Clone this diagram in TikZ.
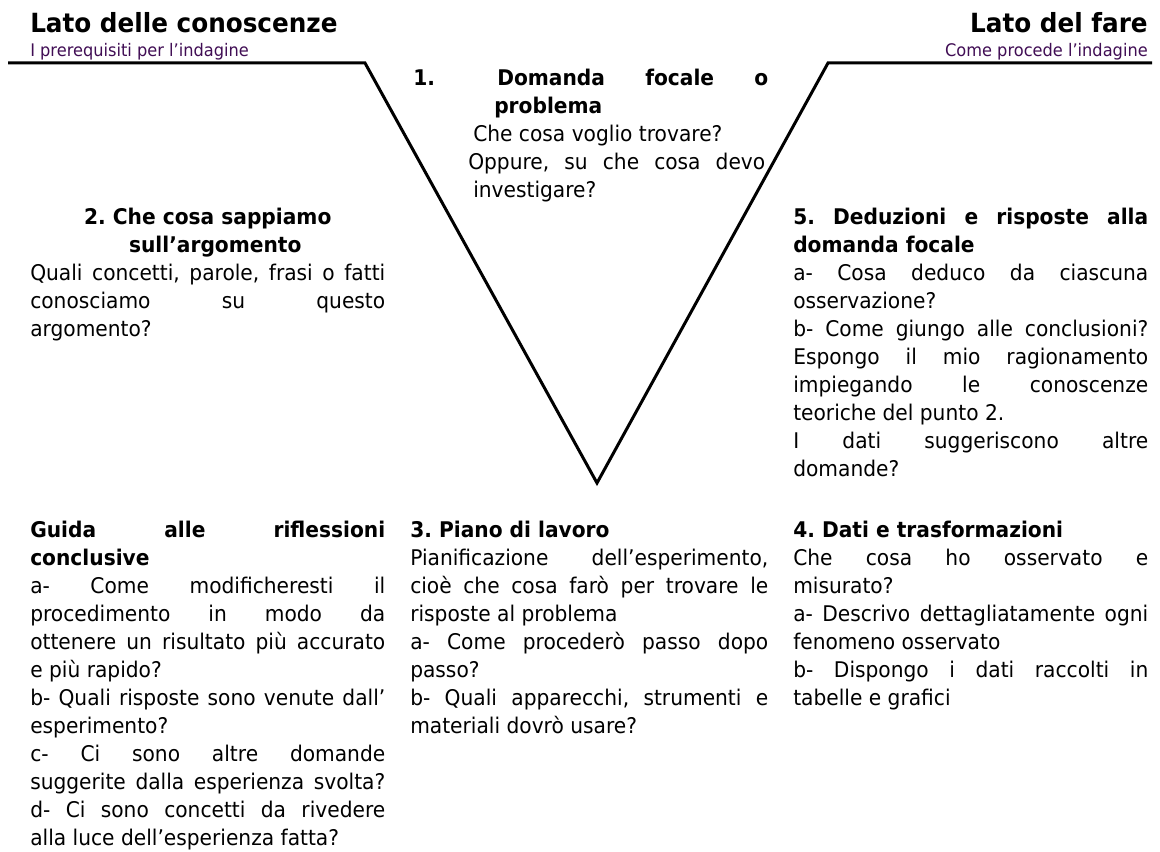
\documentclass[tikz,border=0pt]{standalone}
\usepackage{fontspec}
\setmainfont[FakeStretch=0.935]{DejaVu Sans}
\usetikzlibrary{positioning}
\frenchspacing

\definecolor{subpurple}{rgb}{0.25,0.05,0.33}

% one justified line / one plain line of a column
\newcommand{\jl}[2][266.25pt]{\hbox to #1{#2}}
\newcommand{\rl}[1]{\hbox{#1}}

\tikzset{
  vline/.style={line width=2.25pt, line join=miter},
  body/.style={anchor=base west, inner sep=0pt, font=\fontsize{16.2}{21}\selectfont},
  title/.style={inner sep=0pt, font=\fontsize{19.8}{24}\selectfont\bfseries},
  subtitle/.style={inner sep=0pt, text=subpurple, font=\fontsize{13}{15}\selectfont}
}

\begin{document}
\begin{tikzpicture}[x=0.75pt,y=0.75pt,yscale=-1,xscale=1]
\useasboundingbox (0,0) rectangle (1160,852);

%Shape: the V of the diagram
\draw [vline] (8,63) -- (365,63) -- (597,483) -- (828,63) -- (1152,63) ;

% Text Node
\draw (30,33) node (ltitle) [title, anchor=base west] {Lato delle conoscenze};
% Text Node
\draw (30,57) node (lsub) [subtitle, anchor=base west] {I prerequisiti per l’indagine};
% Text Node
\draw (1148,33) node (rtitle) [title, anchor=base east] {Lato del fare};
% Text Node
\draw (1148,57) node (rsub) [subtitle, anchor=base east] {Come procede l’indagine};

% Text Node
\draw (413,86) node (focal) [body] {\vtop{%
  \jl{\bfseries\hbox to 63pt{1.\hfil}Domanda\hfil focale\hfil o}
  \rl{\hskip 60.75pt\bfseries problema}
  \rl{\hskip 45pt Che cosa voglio trovare?}
  \rl{\hskip 41.25pt\jl[222.75pt]{Oppure, su che cosa devo}}
  \rl{\hskip 45pt investigare?}}};

% Text Node
\draw (30,225) node (know) [body] {\vtop{%
  \jl{\hfil\bfseries 2. Che cosa sappiamo\hfil}
  \jl{\hskip 11.25pt\hfil\bfseries sull’argomento\hfil}
  \jl{Quali concetti, parole, frasi o fatti}
  \jl{conosciamo su questo}
  \rl{argomento?}}};

% Text Node
\draw (793,225) node (deduce) [body] {\vtop{%
  \jl{\bfseries 5. Deduzioni e risposte alla}
  \rl{\bfseries domanda focale}
  \jl{a- Cosa deduco da ciascuna}
  \rl{osservazione?}
  \jl{b- Come giungo alle conclusioni?}
  \jl{Espongo il mio ragionamento}
  \jl{impiegando le conoscenze}
  \rl{teoriche del punto 2.}
  \jl{I dati suggeriscono altre}
  \rl{domande?}}};

% Text Node
\draw (30,537) node (guide) [body] {\vtop{%
  \jl{\bfseries Guida alle riflessioni}
  \rl{\bfseries conclusive}
  \jl{a- Come modificheresti il}
  \jl{procedimento in modo da}
  \jl{ottenere un risultato più accurato}
  \rl{e più rapido?}
  \jl{b- Quali risposte sono venute dall’}
  \rl{esperimento?}
  \jl{c- Ci sono altre domande}
  \jl{suggerite dalla esperienza svolta?}
  \jl{d- Ci sono concetti da rivedere}
  \rl{alla luce dell’esperienza fatta?}}};

% Text Node
\draw (410,537) node (plan) [body] {\vtop{%
  \rl{\bfseries 3. Piano di lavoro}
  \jl[268.5pt]{Pianificazione dell’esperimento,}
  \jl[268.5pt]{cioè che cosa farò per trovare le}
  \rl{risposte al problema}
  \jl[268.5pt]{a- Come procederò passo dopo}
  \rl{passo?}
  \jl[268.5pt]{b- Quali apparecchi, strumenti e}
  \rl{materiali dovrò usare?}}};

% Text Node
\draw (793,537) node (data) [body] {\vtop{%
  \rl{\bfseries 4. Dati e trasformazioni}
  \jl{Che cosa ho osservato e}
  \rl{misurato?}
  \jl{a- Descrivo dettagliatamente ogni}
  \rl{fenomeno osservato}
  \jl{b- Dispongo i dati raccolti in}
  \rl{tabelle e grafici}}};

\end{tikzpicture}
\end{document}
